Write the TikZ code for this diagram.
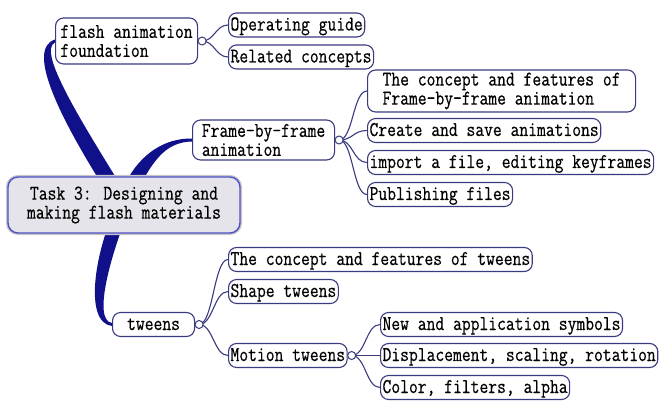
\documentclass[tikz,border=0pt]{standalone}
\usepackage{fontspec}
\newfontfamily\mapfont[FakeStretch=0.815,FakeBold=0.5]{Latin Modern Mono}
\usetikzlibrary{calc}
\definecolor{mapnavy}{HTML}{10108A}
\definecolor{mapline}{HTML}{3A3A80}
\definecolor{maproot}{HTML}{E4E4EA}
\definecolor{maprootb}{HTML}{5050C8}
\pgfdeclarelayer{bg}
\pgfsetlayers{bg,main}
\tikzset{
  topicbase/.style={draw=mapline, line width=1.1pt, rounded corners=8pt, fill=white,
    inner xsep=2pt, inner ysep=2.5pt, anchor=west,
    font=\mapfont\fontsize{21}{19}\selectfont},
  topic/.style={topicbase, text height=15pt, text depth=4pt},
  topictwo/.style={topicbase, align=left},
  rootbox/.style={draw=maprootb, line width=1.4pt, fill=maproot, rounded corners=10pt,
    preaction={draw=gray!45, line width=4pt},
    minimum width=232pt, minimum height=56pt, align=center,
    font=\mapfont\fontsize{21}{19}\selectfont},
  knob/.style={circle, draw=mapline, line width=1pt, fill=white, inner sep=0pt,
    minimum size=8pt, anchor=west},
  branch/.style={draw=mapline, line width=1.1pt},
  trunk/.style={fill=mapnavy},
}
\begin{document}
\begin{tikzpicture}[x=1pt,y=-1pt]
\useasboundingbox (0,0) rectangle (661,406);
% nodes
\node[rootbox] (root) at (124,205) {Task 3: Designing and\\making flash materials};
\node[topictwo, minimum width=142pt, minimum height=46pt] (fa) at (55,41) {flash animation\\foundation};
\node[topic] (og) at (228,25) {Operating guide};
\node[topic] (rc) at (228,57) {Related concepts};
\node[topictwo, minimum width=142pt, minimum height=40pt] (fbf) at (192,140) {Frame-by-frame\\animation};
\node[topictwo, minimum width=268pt, minimum height=42pt] (cfone) at (367,91) {The concept and features of\\Frame-by-frame animation};
\node[topic] (cs) at (367,130.5) {Create and save animations};
\node[topic] (imp) at (367,162.5) {import a file, editing keyframes};
\node[topic] (pub) at (367,194.5) {Publishing files};
\node[topic, minimum width=82pt] (tw) at (112,324.5) {tweens};
\node[topic] (ct) at (228,259.5) {The concept and features of tweens};
\node[topic] (st) at (228,291.5) {Shape tweens};
\node[topic] (mt) at (228,355.5) {Motion tweens};
\node[topic] (nas) at (380,324.5) {New and application symbols};
\node[topic] (dsr) at (380,355.5) {Displacement, scaling, rotation};
\node[topic] (cfa) at (380,387.5) {Color, filters, alpha};
% knobs
\node[knob] (kfa) at ([xshift=-0.5pt]fa.east) {};
\node[knob] (kfbf) at ([xshift=-0.5pt]fbf.east) {};
\node[knob] (ktw) at ([xshift=-0.5pt]tw.east) {};
\node[knob] (kmt) at ([xshift=-0.5pt]mt.east) {};
% connectors
\begin{pgfonlayer}{bg}
  % trunks
  \fill[trunk] ($(root.center)+(-9,0)$) .. controls ($(root.center)+(-64,-85)$) and ($(fa.west)+(-30,8)$) .. ($(fa.west)+(0,-1.5)$)
     -- ($(fa.west)+(0,1.5)$) .. controls ($(fa.west)+(-18,10)$) and ($(root.center)+(-44,-85)$) .. ($(root.center)+(9,0)$) -- cycle;
  \fill[trunk] ($(root.center)+(-7,0)$) .. controls ($(root.center)+(6,-45)$) and ($(fbf.west)+(-32,-2)$) .. ($(fbf.west)+(0,-1.5)$)
     -- ($(fbf.west)+(0,1.5)$) .. controls ($(fbf.west)+(-28,2)$) and ($(root.center)+(26,-42)$) .. ($(root.center)+(7,0)$) -- cycle;
  \fill[trunk] ($(root.center)+(7,0)$) .. controls ($(root.center)+(-13,48)$) and ($(tw.west)+(-20,-4)$) .. ($(tw.west)+(0,-1.5)$)
     -- ($(tw.west)+(0,1.5)$) .. controls ($(tw.west)+(-29,-2)$) and ($(root.center)+(-29,45)$) .. ($(root.center)+(-7,0)$) -- cycle;
  % branches
  \draw[branch] (kfa.center) .. controls +(12,0) and +(-12,0) .. (og.west);
  \draw[branch] (kfa.center) .. controls +(12,0) and +(-12,0) .. (rc.west);
  \draw[branch] (kfbf.center) .. controls +(14,0) and +(-14,0) .. (cfone.west);
  \draw[branch] (kfbf.center) .. controls +(14,0) and +(-14,0) .. (cs.west);
  \draw[branch] (kfbf.center) .. controls +(14,0) and +(-14,0) .. (imp.west);
  \draw[branch] (kfbf.center) .. controls +(14,0) and +(-14,0) .. (pub.west);
  \draw[branch] (ktw.center) .. controls +(14,0) and +(-14,0) .. (ct.west);
  \draw[branch] (ktw.center) .. controls +(14,0) and +(-14,0) .. (st.west);
  \draw[branch] (ktw.center) .. controls +(14,0) and +(-14,0) .. (mt.west);
  \draw[branch] (kmt.center) .. controls +(14,0) and +(-14,0) .. (nas.west);
  \draw[branch] (kmt.center) -- (dsr.west);
  \draw[branch] (kmt.center) .. controls +(14,0) and +(-14,0) .. (cfa.west);
\end{pgfonlayer}
\end{tikzpicture}
\end{document}
